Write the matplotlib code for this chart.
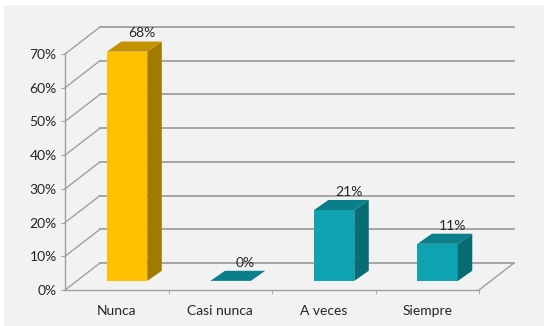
import matplotlib.pyplot as plt
from matplotlib.patches import Polygon, Rectangle

categories = ['Nunca', 'Casi nunca', 'A veces', 'Siempre']
values = [68, 0, 21, 11]
labels = ['68%', '0%', '21%', '11%']
yticks = [0, 10, 20, 30, 40, 50, 60, 70]

face_cols = ['#FFC000', '#0FA3B1', '#0FA3B1', '#0FA3B1']
top_cols = ['#C39200', '#0A7F8A', '#0A7F8A', '#0A7F8A']
side_cols = ['#A27A00', '#086C75', '#086C75', '#086C75']

plt.rcParams['font.family'] = ['Lato', 'DejaVu Sans']

W, H = 544, 326
fig = plt.figure(figsize=(W / 100, H / 100), dpi=100)
fig.patch.set_facecolor('white')
fig.patches.append(Rectangle((4 / W, 0), 1, 1 - 5 / H, transform=fig.transFigure,
                             facecolor='#F2F2F2', edgecolor='none', zorder=-5))

ax = fig.add_axes([65 / W, 36 / H, 414 / W, 236 / H])
ax.set_facecolor('none')
ax.set_xlim(-0.5, 3.5)
ax.set_ylim(0, 70)

# depth offsets (data units)
wdx, wdy = 0.338, 8.0      # wall depth
bdx, bdy = 0.10, 2.7       # bar front inset
sdx, sdy = 0.14, 3.0       # bar depth
bw = 0.39
grid = '#A0A0A0'

# back wall gridlines and left wall diagonals
for t in yticks:
    ax.plot([-0.5 + wdx, 3.5 + wdx], [t + wdy, t + wdy], color=grid, lw=1.3, clip_on=False, zorder=1)
    ax.plot([-0.5, -0.5 + wdx], [t, t + wdy], color=grid, lw=1, clip_on=False, zorder=1)
# floor right edge
ax.plot([3.5, 3.5 + wdx], [0, wdy], color=grid, lw=1, clip_on=False, zorder=1)

x = list(range(len(categories)))
for i, v in enumerate(values):
    x0 = x[i] - bw / 2 + bdx
    x1 = x0 + bw
    y0 = bdy
    y1 = v + bdy
    if v > 0:
        ax.bar(x[i] + bdx, v, width=bw, bottom=bdy, color=face_cols[i], zorder=3, clip_on=False)
        ax.add_patch(Polygon([(x1, y0), (x1 + sdx, y0 + sdy), (x1 + sdx, y1 + sdy), (x1, y1)],
                             closed=True, facecolor=side_cols[i], edgecolor='none', zorder=3, clip_on=False))
    ax.add_patch(Polygon([(x0, y1), (x1, y1), (x1 + sdx, y1 + sdy), (x0 + sdx, y1 + sdy)],
                         closed=True, facecolor=top_cols[i], edgecolor='none', zorder=3, clip_on=False))
    ax.text(x[i] + bdx + sdx, y1 + sdy + 2.4, labels[i], ha='center', va='center',
            fontsize=10, color='#262626', zorder=4)

for s in ['top', 'right']:
    ax.spines[s].set_visible(False)
for s in ['left', 'bottom']:
    ax.spines[s].set_color(grid)
    ax.spines[s].set_linewidth(1)

ax.set_yticks(yticks)
ax.set_yticklabels([f'{t}%' for t in yticks], fontsize=10, color='#262626')
ax.tick_params(axis='y', length=3, color=grid, pad=3)
ax.set_xticks(x)
ax.set_xticklabels(categories, fontsize=10, color='#262626')
ax.tick_params(axis='x', length=0, pad=11)
ax.set_xticks([0.5, 1.5, 2.5, 3.5], minor=True)
ax.tick_params(axis='x', which='minor', length=3, color=grid)

fig.savefig('out.png', dpi=100)
